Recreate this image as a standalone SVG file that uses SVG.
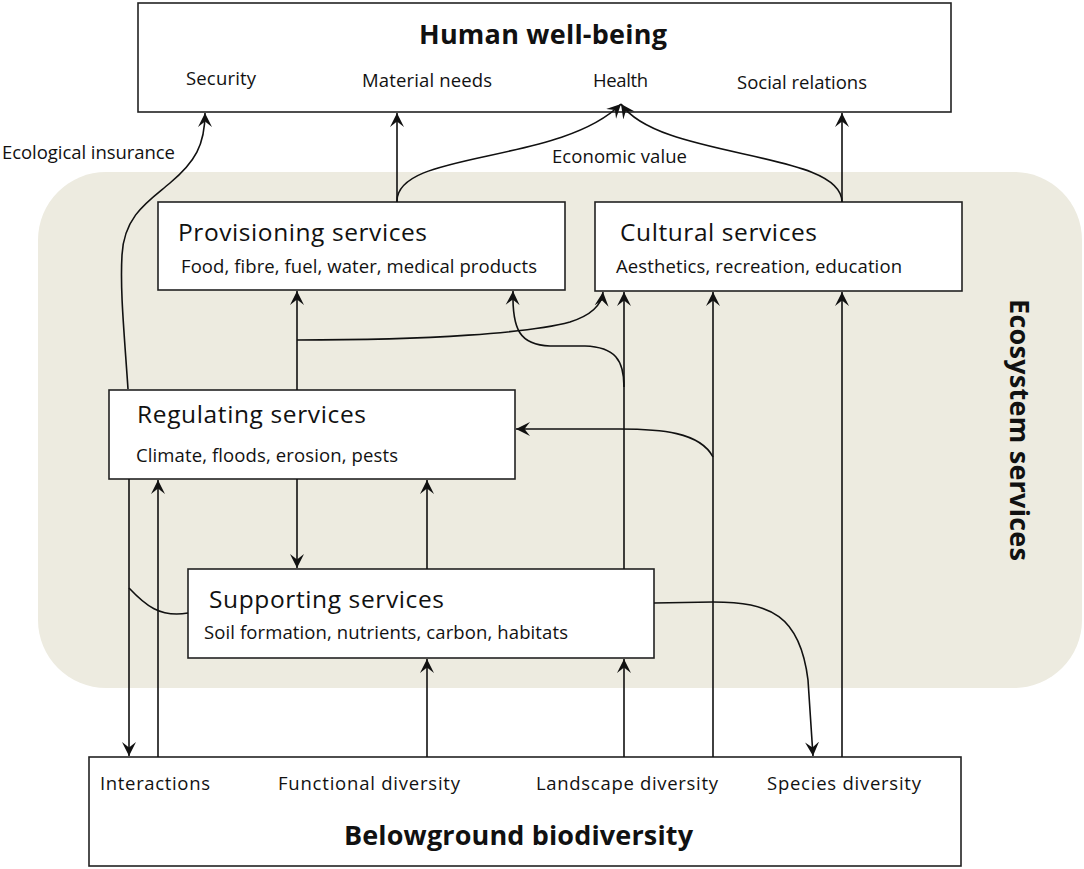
<svg xmlns="http://www.w3.org/2000/svg" width="1084" height="869" viewBox="0 0 1084 869">
<style>
text{font-family:"Open Sans",Lato,"Liberation Sans",sans-serif;fill:#111}
.t{font-weight:bold;font-size:27px}
.h{font-size:24.5px}
.s{font-size:18.5px}
.l{font-size:18.5px}
.box{fill:#fff;stroke:#222;stroke-width:1.6}
.c{fill:none;stroke:#111;stroke-width:1.6}
</style>
<defs>
<marker id="a" markerUnits="userSpaceOnUse" markerWidth="16" markerHeight="16" viewBox="-14 -8 16 16" refX="0" refY="0" orient="auto">
<path d="M0,0 L-14,-7 L-8.5,0 L-14,7 Z" fill="#111"/>
</marker>
</defs>
<rect x="38" y="172" width="1044" height="516" rx="68" ry="68" fill="#EDEBE0"/>
<text class="t" transform="translate(1010,299) rotate(90)" textLength="262" font-size="28">Ecosystem services</text>
<g id="human-well-being">
<rect class="box" x="138" y="3" width="813" height="109"/>
<text class="t" x="419" y="44" textLength="248">Human well-being</text>
<text class="l" x="186" y="85" textLength="70">Security</text>
<text class="l" x="362" y="87" textLength="130">Material needs</text>
<text class="l" x="593" y="87" textLength="55">Health</text>
<text class="l" x="737" y="89" textLength="130">Social relations</text>
</g>
<g id="provisioning">
<rect class="box" x="158" y="202" width="407" height="88"/>
<text class="h" x="178" y="241" textLength="249">Provisioning services</text>
<text class="s" x="181" y="273" textLength="356">Food, fibre, fuel, water, medical products</text>
</g>
<g id="cultural">
<rect class="box" x="595" y="202" width="367" height="89"/>
<text class="h" x="620" y="241" textLength="197">Cultural services</text>
<text class="s" x="616" y="273" textLength="286">Aesthetics, recreation, education</text>
</g>
<g id="regulating">
<rect class="box" x="109" y="390" width="406" height="89"/>
<text class="h" x="137" y="423" textLength="229">Regulating services</text>
<text class="s" x="136" y="462" textLength="262">Climate, floods, erosion, pests</text>
</g>
<g id="supporting">
<rect class="box" x="188" y="569" width="466" height="89"/>
<text class="h" x="209" y="608" textLength="235">Supporting services</text>
<text class="s" x="204" y="639" textLength="364">Soil formation, nutrients, carbon, habitats</text>
</g>
<g id="belowground">
<rect class="box" x="89" y="757" width="872" height="109"/>
<text class="l" x="100" y="790" textLength="110">Interactions</text>
<text class="l" x="278" y="790" textLength="182">Functional diversity</text>
<text class="l" x="536" y="790" textLength="182">Landscape diversity</text>
<text class="l" x="767" y="790" textLength="154">Species diversity</text>
<text class="t" x="344" y="845" textLength="349" font-size="28">Belowground biodiversity</text>
</g>
<g id="labels">
<text class="l" x="2" y="159" textLength="173">Ecological insurance</text>
<text class="l" x="552" y="163" textLength="135">Economic value</text>
</g>
<g id="connectors">
<path class="c" marker-end="url(#a)" d="M128,389 C124,330 120,290 122,255 C124,215 150,200 170,183 C195,162 205,145 205,113"/>
<path class="c" marker-end="url(#a)" d="M397,202 L397,113"/>
<path class="c" marker-end="url(#a)" d="M397,202 C395,150 560,165 621,104"/>
<path class="c" marker-end="url(#a)" d="M842,202 L842,113"/>
<path class="c" marker-end="url(#a)" d="M842,202 C842,150 660,160 621,104"/>
<path class="c" marker-end="url(#a)" d="M297,390 L297,291"/>
<path class="c" marker-end="url(#a)" d="M297,340 C430,340 530,333 570,322 C595,314 602,302 603,292"/>
<path class="c" marker-end="url(#a)" d="M624,569 L624,292"/>
<path class="c" marker-end="url(#a)" d="M624,387 C624,360 615,347 585,346 L550,346 C520,345 512,330 513,291"/>
<path class="c" marker-end="url(#a)" d="M713,757 L713,292"/>
<path class="c" marker-end="url(#a)" d="M713,457 C700,432 660,429 620,429 L516,429"/>
<path class="c" marker-end="url(#a)" d="M842,757 L842,292"/>
<path class="c" marker-end="url(#a)" d="M297,479 L297,568"/>
<path class="c" marker-end="url(#a)" d="M427,569 L427,480"/>
<path class="c" marker-end="url(#a)" d="M129,479 L129,756"/>
<path class="c" marker-end="url(#a)" d="M158,757 L158,480"/>
<path class="c" d="M188,613 C160,618 145,605 129,588"/>
<path class="c" marker-end="url(#a)" d="M427,757 L427,659"/>
<path class="c" marker-end="url(#a)" d="M624,757 L624,659"/>
<path class="c" marker-end="url(#a)" d="M654,603 L713,602 C770,602 800,615 808,680 L813,756"/>
</g>
</svg>
